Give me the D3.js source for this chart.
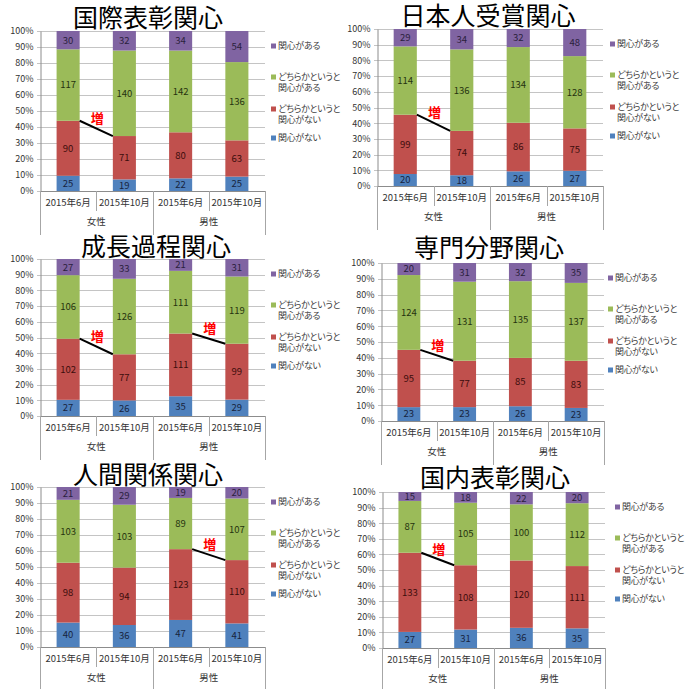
<!DOCTYPE html>
<html><head><meta charset="utf-8">
<script src="https://cdn.jsdelivr.net/npm/d3@7"></script>
<style>
html,body{margin:0;padding:0;background:#fff;}
svg{display:block;font-family:"Noto Sans CJK JP","Noto Sans",sans-serif;font-feature-settings:"palt";}
</style></head>
<body><svg id="c" width="689" height="689"></svg>
<script>
// ---- data ----
const categories = ["2015年6月","2015年10月","2015年6月","2015年10月"];
const groups = ["女性","男性"];
const seriesNames = ["関心がない","どちらかというと関心がない","どちらかというと関心がある","関心がある"];
const legendLines = [["関心がない"],["どちらかというと","関心がない"],["どちらかというと","関心がある"],["関心がある"]];
const seriesColors = ["#4F81BD","#C0504D","#9BBB59","#8064A2"];
const labelColors = ["#17243d","#3c0d0c","#26330f","#2b1f3d"];
const yTicks = [0,0.1,0.2,0.3,0.4,0.5,0.6,0.7,0.8,0.9,1.0];
const titles = ["国際表彰関心","日本人受賞関心","成長過程関心","専門分野関心","人間関係関心","国内表彰関心"];
const markLabel = "増";

// each row: one bar (category), values by series [関心がない, どちらかというと関心がない, どちらかというと関心がある, 関心がある]
const kokusaiHyosho = [[25,90,117,30],[19,71,140,32],[22,80,142,34],[25,63,136,54]];
const nihonjinJusho = [[20,99,114,29],[18,74,136,34],[26,86,134,32],[27,75,128,48]];
const seichoKatei   = [[27,102,106,27],[26,77,126,33],[35,111,111,21],[29,99,119,31]];
const senmonBunya   = [[23,95,124,20],[23,77,131,31],[26,85,135,32],[23,83,137,35]];
const ningenKankei  = [[40,98,103,21],[36,94,103,29],[47,123,89,19],[41,110,107,20]];
const kokunaiHyosho = [[27,133,87,15],[31,108,105,18],[36,120,100,22],[35,111,112,20]];
const panelValues = [kokusaiHyosho,nihonjinJusho,seichoKatei,senmonBunya,ningenKankei,kokunaiHyosho];
// groups (0=女性,1=男性) that carry the "増" marker
const markedGroups = [[0],[0],[0,1],[0],[1],[0]];

// ---- layout ----
const layout = [
  {L:40, R:265, T:31,  B:191, tx:148, ty:27,  lx:271},
  {L:377,R:603, T:29,  B:186, tx:488, ty:25,  lx:610},
  {L:40, R:265, T:259, B:416, tx:156, ty:256, lx:271},
  {L:381,R:604, T:263, B:421, tx:489, ty:257, lx:608},
  {L:40, R:265, T:487, B:647, tx:148, ty:484, lx:271},
  {L:382,R:605, T:492, B:648, tx:495, ty:487, lx:615}
];

const svg = d3.select("#c");

layout.forEach((g, pi) => {
  const vals = panelValues[pi];
  const p = svg.append("g");
  const x = d3.scaleBand().domain(d3.range(categories.length)).range([g.L, g.R]).paddingInner(0.59).paddingOuter(0.295);
  const xs = d3.scaleBand().domain(d3.range(categories.length)).range([g.L, g.R]).padding(0);
  const y = d3.scaleLinear().domain([0,1]).range([g.B, g.T]);

  // gridlines
  p.selectAll("line.grid").data(yTicks).join("line")
    .attr("x1", g.L-3).attr("x2", g.R)
    .attr("y1", d => Math.round(y(d))+0.5).attr("y2", d => Math.round(y(d))+0.5)
    .attr("stroke", "#c4c4c4").attr("stroke-width", 1);

  // y axis
  const yAxis = d3.axisLeft(y).tickValues(yTicks).tickFormat(d3.format(".0%")).tickSize(0).tickPadding(7);
  const ya = p.append("g").attr("transform", `translate(${g.L+0.5},0)`).call(yAxis);
  ya.select(".domain").attr("stroke", "#8c8c8c");
  ya.selectAll("text").attr("font-size", 9).attr("fill", "#333").attr("font-family", "'Noto Sans CJK JP'");

  // stacked bars
  const stack = d3.stack().keys(d3.range(seriesNames.length)).offset(d3.stackOffsetExpand);
  const stacked = stack(vals);
  stacked.forEach((layer, si) => {
    p.selectAll(null).data(layer).join("rect")
      .attr("x", (d,i) => x(i)).attr("width", x.bandwidth())
      .attr("y", d => y(d[1])).attr("height", d => y(d[0]) - y(d[1]))
      .attr("fill", seriesColors[si]);
    p.selectAll(null).data(layer).join("text")
      .attr("x", (d,i) => x(i) + x.bandwidth()/2)
      .attr("y", d => (y(d[0]) + y(d[1]))/2)
      .attr("dy", "0.36em")
      .attr("text-anchor", "middle")
      .attr("font-size", 9.5)
      .attr("fill", labelColors[si])
      .text((d,i) => vals[i][si]);
  });

  // x axis baseline
  p.append("line").attr("x1", g.L).attr("x2", g.R)
    .attr("y1", g.B+0.5).attr("y2", g.B+0.5).attr("stroke", "#8c8c8c");
  // dividers
  const bottom = Math.min(g.B + 44, 689);
  d3.range(categories.length + 1).forEach(i => {
    const xx = Math.round(i < categories.length ? xs(i) : g.R) + 0.5;
    const long = (i % 2 === 0);
    p.append("line").attr("x1", xx).attr("x2", xx)
      .attr("y1", g.B).attr("y2", long ? bottom : g.B + 20)
      .attr("stroke", "#a6a6a6");
  });
  // category labels
  p.selectAll(null).data(categories).join("text")
    .attr("x", (d,i) => xs(i) + xs.bandwidth()/2)
    .attr("y", g.B + 12).attr("dy", "0.36em")
    .attr("text-anchor", "middle").attr("font-size", 9.5).attr("fill", "#333")
    .text(d => d);
  // group labels
  p.selectAll(null).data(groups).join("text")
    .attr("x", (d,gi) => (xs(gi*2) + xs(gi*2+1) + xs.bandwidth())/2)
    .attr("y", g.B + 31).attr("dy", "0.36em")
    .attr("text-anchor", "middle").attr("font-size", 9.5).attr("fill", "#333")
    .text(d => d);

  // 増 markers
  markedGroups[pi].forEach(gi => {
    const a = gi*2, b = gi*2+1;
    const x1 = x(a) + x.bandwidth(), y1 = y(stacked[1][a][1]);
    const x2 = x(b), y2 = y(stacked[1][b][1]);
    p.append("line").attr("x1", x1).attr("y1", y1).attr("x2", x2).attr("y2", y2)
      .attr("stroke", "#000").attr("stroke-width", 2);
    p.append("text").attr("x", (x1+x2)/2 + 1).attr("y", (y1+y2)/2 - 10).attr("dy", "0.36em")
      .attr("text-anchor", "middle").attr("font-size", 13).attr("font-weight", "bold")
      .attr("fill", "#ff0000").text(markLabel);
  });

  // legend (top to bottom: reversed series)
  const offsets = [15, 46, 78, 107];
  const order = [3,2,1,0];
  order.forEach((si, k) => {
    const ly = g.T + offsets[k];
    p.append("rect").attr("x", g.lx).attr("y", ly - 2.5).attr("width", 5).attr("height", 5)
      .attr("fill", seriesColors[si]);
    legendLines[si].forEach((ln, li) => {
      p.append("text").attr("x", g.lx + 7).attr("y", ly + li*11).attr("dy", "0.36em")
        .attr("font-size", 9).attr("letter-spacing", -0.3).attr("fill", "#404040").text(ln);
    });
  });

  // title
  p.append("text").attr("x", g.tx).attr("y", g.ty).attr("text-anchor", "middle")
    .attr("font-size", 25).attr("fill", "#000").text(titles[pi]);
});
</script></body></html>
